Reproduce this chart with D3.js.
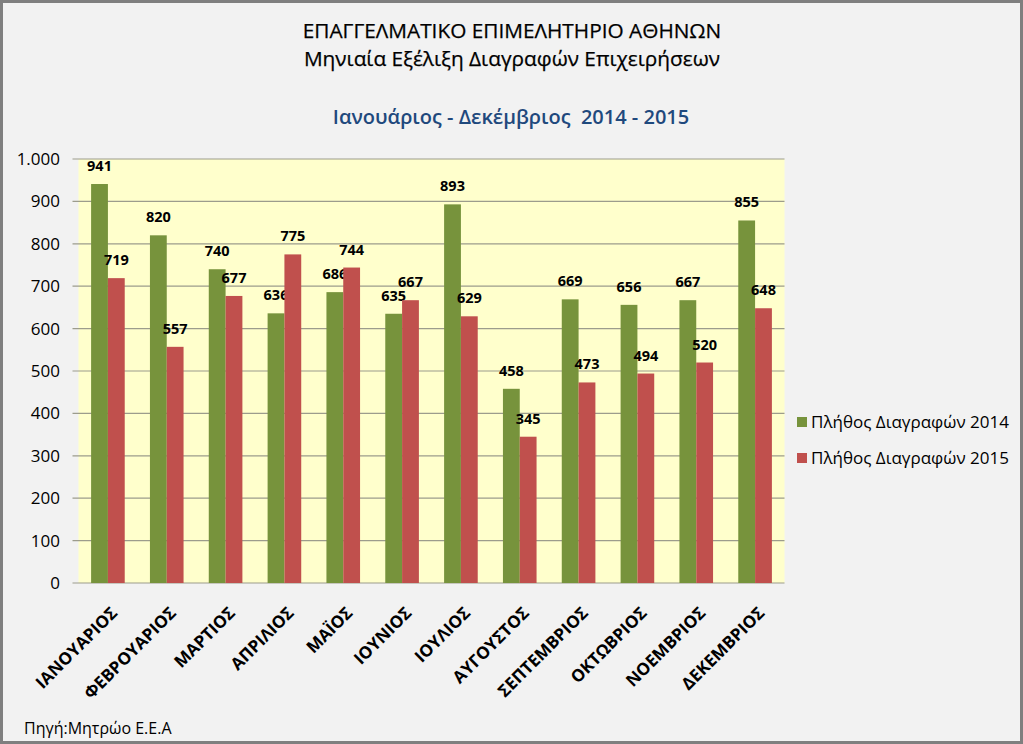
<!DOCTYPE html>
<html><head><meta charset="utf-8">
<script src="https://cdn.jsdelivr.net/npm/d3@7"></script>
<style>
html,body{margin:0;padding:0;background:#fff;}
svg{display:block;}
text{font-family:"Open Sans","Noto Sans",sans-serif;}
</style></head>
<body>
<script>
const months = ["ΙΑΝΟΥΑΡΙΟΣ","ΦΕΒΡΟΥΑΡΙΟΣ","ΜΑΡΤΙΟΣ","ΑΠΡΙΛΙΟΣ","ΜΑΪΟΣ","ΙΟΥΝΙΟΣ","ΙΟΥΛΙΟΣ","ΑΥΓΟΥΣΤΟΣ","ΣΕΠΤΕΜΒΡΙΟΣ","ΟΚΤΩΒΡΙΟΣ","ΝΟΕΜΒΡΙΟΣ","ΔΕΚΕΜΒΡΙΟΣ"];
const values2014 = [941,820,740,636,686,635,893,458,669,656,667,855];
const values2015 = [719,557,677,775,744,667,629,345,473,494,520,648];
const seriesNames = ["Πλήθος Διαγραφών 2014","Πλήθος Διαγραφών 2015"];
const yTicks = [0,100,200,300,400,500,600,700,800,900,1000];
const titleLines = ["ΕΠΑΓΓΕΛΜΑΤΙΚΟ ΕΠΙΜΕΛΗΤΗΡΙΟ ΑΘΗΝΩΝ","Μηνιαία Εξέλιξη Διαγραφών Επιχειρήσεων"];
const subtitle = "Ιανουάριος - Δεκέμβριος  2014 - 2015";
const sourceText = "Πηγή:Μητρώο Ε.Ε.Α";

const W=1023,H=744;
const colors=["#77933C","#C0504D"];
const svg=d3.select("body").append("svg").attr("width",W).attr("height",H);
svg.append("rect").attr("x",1.5).attr("y",1.5).attr("width",W-3).attr("height",H-3)
  .attr("fill","#F2F2F2").attr("stroke","#7F7F7F").attr("stroke-width",3);

// titles
svg.append("text").attr("x",512).attr("y",38).attr("text-anchor","middle")
  .attr("font-size",20.8).attr("fill","#000").attr("stroke","#000").attr("stroke-width",0.25).text(titleLines[0]);
svg.append("text").attr("x",512).attr("y",66).attr("text-anchor","middle")
  .attr("font-size",20.8).attr("fill","#000").attr("stroke","#000").attr("stroke-width",0.25).text(titleLines[1]);
svg.append("text").attr("x",511).attr("y",124).attr("text-anchor","middle")
  .attr("font-size",20).attr("font-weight",600).attr("fill","#1F497D").attr("xml:space","preserve").text(subtitle);

const plot={l:78.5,r:784.5,t:159,b:583};
const x=d3.scaleBand().domain(months).range([plot.l,plot.r]).paddingInner(0).paddingOuter(0);
const inner=d3.scaleBand().domain([0,1]).range([0,x.bandwidth()]).paddingInner(0).paddingOuter(0.75);
const y=d3.scaleLinear().domain([0,1000]).range([plot.b,plot.t]);

svg.append("rect").attr("x",plot.l).attr("y",plot.t).attr("width",plot.r-plot.l).attr("height",plot.b-plot.t)
  .attr("fill","#FFFFCC");

// gridlines
svg.append("g").selectAll("line").data(yTicks).join("line")
  .attr("x1",plot.l-6).attr("x2",plot.r).attr("y1",d=>y(d)).attr("y2",d=>y(d))
  .attr("stroke","#9C9C8C").attr("stroke-width",1.2);

// y axis labels
const fmt=d=>d3.format(",")(d).replace(/,/g,".");
svg.append("g").selectAll("text").data(yTicks).join("text")
  .attr("x",60).attr("y",d=>y(d)).attr("dy","0.35em").attr("text-anchor","end")
  .attr("font-size",17).attr("fill","#000").text(fmt);

const series=[values2014,values2015];
series.forEach((vals,si)=>{
  const g=svg.append("g");
  g.selectAll("rect").data(vals).join("rect")
    .attr("x",(d,i)=>x(months[i])+inner(si)).attr("width",inner.bandwidth())
    .attr("y",d=>y(d)).attr("height",d=>y(0)-y(d)).attr("fill",colors[si]);
  g.selectAll("text").data(vals).join("text")
    .attr("x",(d,i)=>x(months[i])+inner(si)+inner.bandwidth()/2)
    .attr("y",d=>y(d)-13).attr("text-anchor","middle")
    .attr("font-size",14.5).attr("font-weight","bold").attr("fill","#000").text(d=>d);
});

// x labels
svg.append("g").selectAll("text").data(months).join("text")
  .attr("transform",d=>`translate(${x(d)+x.bandwidth()/2+10.5},${plot.b+31}) rotate(-45)`)
  .attr("text-anchor","end")
  .attr("font-size",17).attr("font-weight","bold").attr("fill","#000").text(d=>d);

// legend
const leg=svg.append("g");
seriesNames.forEach((n,i)=>{
  const ly=422+i*36;
  leg.append("rect").attr("x",797).attr("y",ly-5).attr("width",10).attr("height",10).attr("fill",colors[i]);
  leg.append("text").attr("x",811).attr("y",ly).attr("dy","0.35em").attr("font-size",17).attr("fill","#000").text(n);
});

svg.append("text").attr("x",24).attr("y",734).attr("font-size",16).attr("fill","#000").text(sourceText);
</script>
</body></html>
